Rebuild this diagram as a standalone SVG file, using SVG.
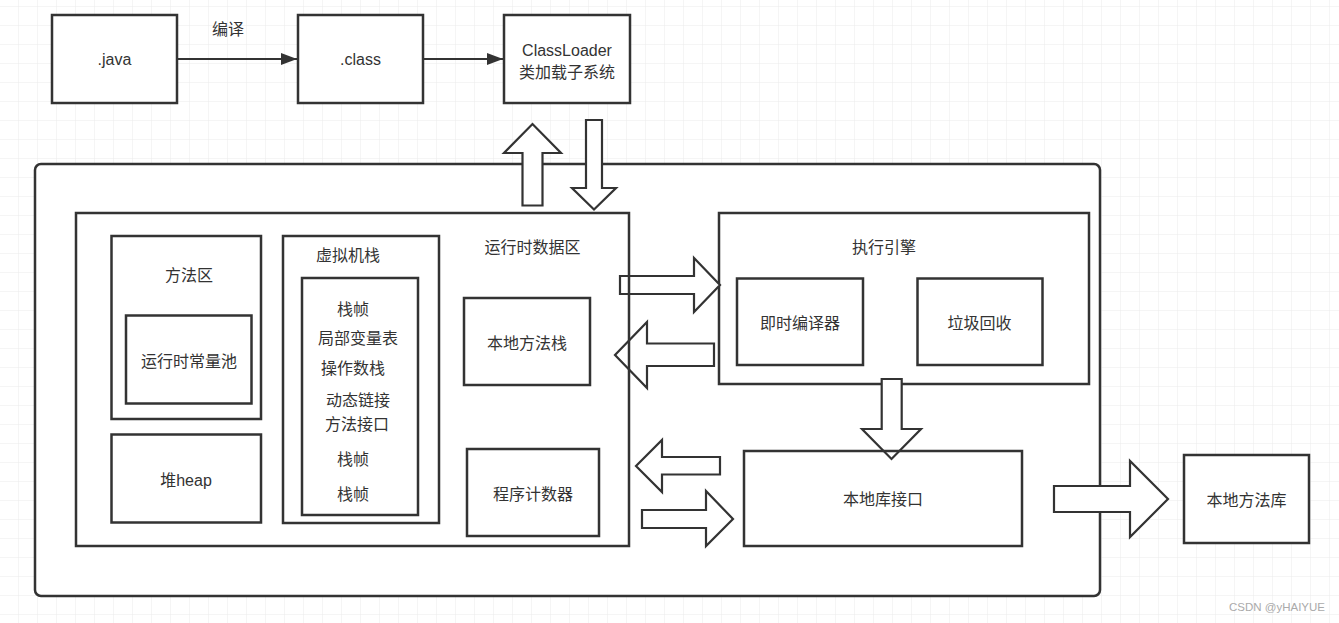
<svg xmlns="http://www.w3.org/2000/svg" width="1339" height="623" viewBox="0 0 1339 623">
  <defs>
    <pattern id="grid" x="0" y="7" width="19" height="19" patternUnits="userSpaceOnUse">
      <path d="M19,0 V19 M0,19 H19" fill="none" stroke="#ebebeb" stroke-width="1"/>
    </pattern>
    <marker id="tri" viewBox="0 0 16 12" refX="16" refY="6" markerWidth="16" markerHeight="12" markerUnits="userSpaceOnUse" orient="auto">
      <path d="M0,0 L16,6 L0,12 Z" fill="#333"/>
    </marker>
  </defs>
  <style>
    .box { fill: #fff; stroke: #333; stroke-width: 2.5; }
    .frame { fill: none; stroke: #333; stroke-width: 2.5; }
    .blk { fill: #fff; stroke: #333; stroke-width: 2.2; stroke-linejoin: miter; }
    .line { fill: none; stroke: #333; stroke-width: 2; }
    text { font-family: "Liberation Sans", "Noto Sans CJK SC", sans-serif; font-size: 16px; fill: #333; text-anchor: middle; }
    .wm { font-size: 11.5px; fill: #aaa; text-anchor: end; }
  </style>

  <rect width="1339" height="623" fill="#fff"/>
  <rect width="1339" height="623" fill="url(#grid)"/>

  <g id="java"><rect class="box" x="52" y="15" width="125" height="88"/><text x="114.5" y="65">.java</text></g>
  <g id="class"><rect class="box" x="298" y="15" width="125" height="88"/><text x="360.5" y="65">.class</text></g>
  <g id="classloader"><rect class="box" x="504" y="15" width="126" height="88"/>
    <text x="567" y="56">ClassLoader</text><text x="567" y="78">类加载子系统</text></g>

  <g id="jvm"><rect class="box" x="35" y="164" width="1065" height="432" rx="6"/></g>
  <g id="engine"><rect class="box" x="719" y="213" width="370" height="171"/><text x="884" y="253">执行引擎</text></g>

  <g id="connectors">
    <path class="line" d="M177,59 H297" marker-end="url(#tri)"/>
    <text x="228" y="35">编译</text>
    <path class="line" d="M423,59 H503" marker-end="url(#tri)"/>
    <path class="blk" d="M522.5,205.5 V153 H504 L532.5,124 L561,153 H542.5 V205.5 Z"/>
    <path class="blk" d="M586,120 V188 H572 L594,209.5 L616,188 H602 V120 Z"/>
    <path class="blk" d="M620,276 H694 V258 L720,285 L694,312 V294 H620 Z"/>
    <path class="blk" d="M714,343.5 H647 V322 L615,355 L647,388 V366 H714 Z"/>
    <path class="blk" d="M720,457 H662 V440 L636,466 L662,492 V474.5 H720 Z"/>
    <path class="blk" d="M642,510 H706 V491 L733,519 L706,546 V528 H642 Z"/>
    <path class="blk" d="M881.7,379 V429 H862 L891.5,459 L921,429 H901.7 V379 Z"/>
    <path class="blk" d="M1054,486 H1130 V461 L1168,499 L1130,537 V512 H1054 Z"/>
  </g>

  <g id="runtime"><rect class="frame" x="76" y="213" width="553" height="333"/><text x="532.5" y="253">运行时数据区</text></g>
  <g id="method-area"><rect class="frame" x="111.5" y="236" width="149.5" height="183"/><text x="189" y="281">方法区</text></g>
  <g id="const-pool"><rect class="frame" x="126" y="315.5" width="125.5" height="88"/><text x="189" y="367">运行时常量池</text></g>
  <g id="heap"><rect class="frame" x="111.5" y="434.5" width="149.5" height="88"/><text x="186" y="486">堆heap</text></g>
  <g id="vm-stack"><rect class="frame" x="283" y="236" width="156" height="287"/><text x="348" y="261">虚拟机栈</text></g>
  <g id="frames"><rect class="frame" x="302" y="278" width="116" height="237"/>
    <text x="353" y="315">栈帧</text>
    <text x="358" y="344">局部变量表</text>
    <text x="353" y="374">操作数栈</text>
    <text x="358" y="406">动态链接</text>
    <text x="357" y="430">方法接口</text>
    <text x="353" y="465">栈帧</text>
    <text x="353" y="500">栈帧</text>
  </g>
  <g id="native-stack"><rect class="frame" x="464" y="298" width="126" height="87"/><text x="527" y="349">本地方法栈</text></g>
  <g id="pc"><rect class="frame" x="467" y="449" width="132" height="87"/><text x="533" y="500">程序计数器</text></g>
  <g id="jit"><rect class="frame" x="737" y="278.5" width="126" height="86.5"/><text x="800" y="329">即时编译器</text></g>
  <g id="gc"><rect class="frame" x="917.5" y="278.5" width="125" height="86.5"/><text x="979.5" y="329">垃圾回收</text></g>
  <g id="native-interface"><rect class="frame" x="744" y="451" width="278" height="95"/><text x="883" y="505">本地库接口</text></g>
  <g id="native-lib"><rect class="box" x="1184" y="455" width="125" height="88"/><text x="1246.5" y="506">本地方法库</text></g>

  <text class="wm" x="1325" y="611">CSDN @yHAIYUE</text>
</svg>
